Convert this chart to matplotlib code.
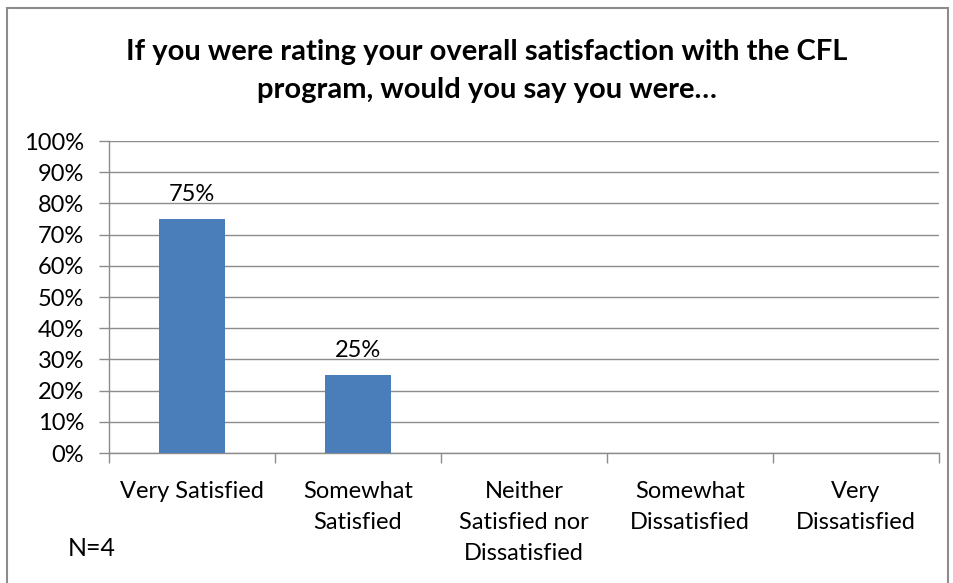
import matplotlib

matplotlib.use("Agg")
import matplotlib.pyplot as plt  # noqa: E402
from matplotlib.patches import Rectangle  # noqa: E402
from matplotlib.ticker import PercentFormatter  # noqa: E402

categories = ["Very Satisfied", "Somewhat\nSatisfied", "Neither\nSatisfied nor\nDissatisfied",
              "Somewhat\nDissatisfied", "Very\nDissatisfied"]
shares = [75, 25, 0, 0, 0]
title = "If you were rating your overall satisfaction with the CFL\nprogram, would you say you were\u2026"
note = "N=4"

_BLUE = "#4A7EBB"
_GRID = "#8C8C8C"
plt.rcParams["font.family"] = ["Lato", "DejaVu Sans"]

fig = plt.figure(figsize=(9.54, 5.83), dpi=100)
ax = fig.add_axes([109 / 954, 130 / 583, 830 / 954, 312 / 583])

x = range(len(categories))
bars = ax.bar(x, shares, width=0.4, color=_BLUE, zorder=3)
for b, v in zip(bars, shares):
    if v:
        ax.annotate(f"{v}%", (b.get_x() + b.get_width() / 2, v), xytext=(0, 10),
                    textcoords="offset points", ha="center", va="bottom", fontsize=17)

ax.set_xlim(-0.5, len(categories) - 0.5)
ax.set_ylim(0, 100)
ax.set_yticks(range(0, 101, 10))
ax.yaxis.set_major_formatter(PercentFormatter(decimals=0))
ax.yaxis.grid(True, color=_GRID, linewidth=1.0, zorder=0)
ax.set_xticks(x)
ax.set_xticklabels(categories, fontsize=17, linespacing=1.6, va="top")
ax.set_xticks([i - 0.5 for i in range(len(categories) + 1)], minor=True)
ax.tick_params(axis="x", which="major", length=0, pad=20)
ax.tick_params(axis="x", which="minor", length=7, color=_GRID, width=1.0)
ax.tick_params(axis="y", length=7, color=_GRID, width=1.0, labelsize=17, pad=11)
for side in ("top", "right"):
    ax.spines[side].set_visible(False)
for side in ("left", "bottom"):
    ax.spines[side].set_color(_GRID)
    ax.spines[side].set_linewidth(1.0)

fig.text(487 / 954, 1 - 71 / 583, title, ha="center", va="center", fontsize=21,
         fontweight="bold", linespacing=1.55)
fig.text(68 / 954, 1 - 549 / 583, note, ha="left", va="center", fontsize=18)

# outer chart frame
fig.patches.append(Rectangle((7 / 954, -0.01), 941 / 954, 1 - 8 / 583 + 0.01,
                             transform=fig.transFigure, fill=False,
                             edgecolor="#8C8C8C", linewidth=1.5))

fig.savefig("out.png", dpi=100)
